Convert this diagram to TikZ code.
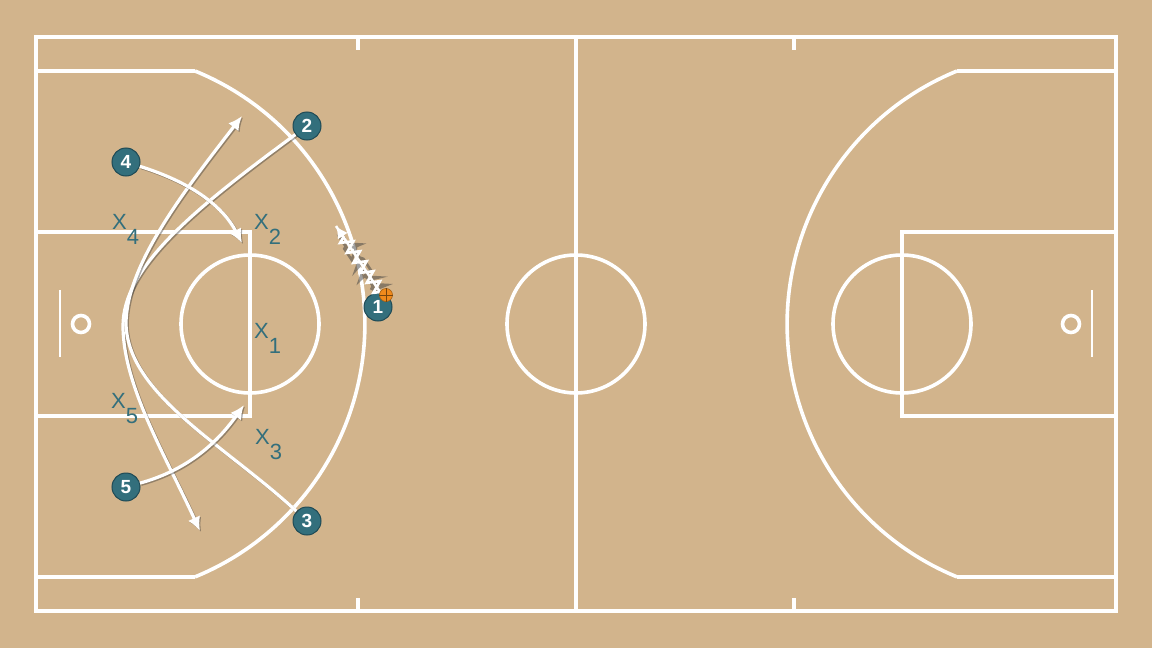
\documentclass[tikz,border=0pt]{standalone}
\usepackage{fontspec}
\setmainfont{Liberation Sans}
\usetikzlibrary{arrows.meta,decorations.pathmorphing,calc}
\definecolor{court}{HTML}{D2B48C}
\definecolor{teal}{HTML}{336F7C}
\definecolor{tealdark}{HTML}{1F4A55}
\definecolor{ballc}{HTML}{F08A1C}
\tikzset{
  cline/.style={draw=white,line width=3.6pt},
  player/.style={circle,fill=teal,draw=tealdark,line width=1pt,minimum size=28pt,inner sep=0pt,text=white,font=\bfseries\fontsize{19}{19}\selectfont},
  defender/.style={text=teal,inner sep=0pt,font=\fontsize{22}{22}\selectfont},
  move/.style={draw=white,line width=3.2pt,
    preaction={draw=black!80,opacity=.4,line width=3.2pt,transform canvas={xshift=1.2pt,yshift=-1.2pt}}},
  movearrow/.style={move,-{Latex[length=14pt,width=13pt]}},
}
\begin{document}
\begin{tikzpicture}[x=1pt,y=-1pt]
\fill[court] (0,0) rectangle (1152,648);
\useasboundingbox (0,0) rectangle (1152,648);
% court outline
\draw[cline] (36,37) rectangle (1116,611);
\draw[cline] (576,37) -- (576,611);
\draw[cline] (576,324) circle[radius=69];
\foreach \x in {358,794}{
  \draw[cline] (\x,37) -- (\x,50);
  \draw[cline] (\x,611) -- (\x,598);
}
% left half
\draw[cline] (36,71) -- (195,71);
\draw[cline] (36,577) -- (195,577);
\draw[cline] (195,71) arc[start angle=-67.75,end angle=67.75,radius=273.3];
\draw[cline] (36,232) rectangle (250,416);
\draw[cline] (250,324) circle[radius=69];
\draw[cline] (81,324) circle[radius=8.5];
\draw[white,line width=2.4pt] (60,290) -- (60,357);
% right half
\draw[cline] (1116,71) -- (957,71);
\draw[cline] (1116,577) -- (957,577);
\draw[cline] (957,71) arc[start angle=-112.25,end angle=-247.75,radius=273.3];
\draw[cline] (902,232) rectangle (1116,416);
\draw[cline] (902,324) circle[radius=69];
\draw[cline] (1071,324) circle[radius=8.5];
\draw[white,line width=2.4pt] (1092,290) -- (1092,357);

% target coordinates
\coordinate (a) at (123,326);
\coordinate (b) at (126,324);
\coordinate (t2) at (200,531);
\coordinate (t3) at (242,116);
\coordinate (t4) at (242,243);
\coordinate (t5) at (244,405);
\coordinate (t1) at (336,226);
\coordinate (s1) at (380,292);

% players
\node[player] (p1) at (378,307) {1};
\node[player] (p2) at (307,126) {2};
\node[player] (p3) at (307,521) {3};
\node[player] (p4) at (126,162) {4};
\node[player] (p5) at (126,487) {5};

% movements
\draw[movearrow] (p2) .. controls (190,212) and (123,268) .. (a) .. controls (123,385) and (165,455) .. (t2);
\draw[movearrow] (p3) .. controls (225,445) and (128,395) .. (b) .. controls (126,265) and (185,190) .. (t3);
\draw[movearrow] (p4) .. controls (190,182) and (222,205) .. (t4);
\draw[movearrow] (p5) .. controls (180,472) and (212,450) .. (t5);
% dribble
\draw[white,line width=2.6pt,
  preaction={draw=black!75,opacity=.5,line width=2.6pt,transform canvas={xshift=1.2pt,yshift=-1.5pt},decorate,decoration={zigzag,segment length=12pt,amplitude=6pt,post=lineto,post length=9pt}},
  decorate,decoration={zigzag,segment length=12pt,amplitude=6pt,post=lineto,post length=9pt}]
  (s1) -- (t1);
\draw[white,line width=2.6pt,-{Latex[length=12pt,width=12pt]}] ($(t1)!0.99!(s1)$) -- (t1);
% ball
\node[circle,fill=ballc,draw=ballc!70!black,line width=0.6pt,minimum size=13pt,inner sep=0pt] (ball) at (386,295) {};
\draw[ballc!50!black,line width=0.5pt] (ball.north) -- (ball.south) (ball.west) -- (ball.east);

% defenders
\newcommand{\defx}[1]{X\raisebox{-15pt}{#1}}
\node[defender,anchor=west] (d4) at (112,229) {\defx{4}};
\node[defender,anchor=west] (d2) at (254,229) {\defx{2}};
\node[defender,anchor=west] (d1) at (254,338) {\defx{1}};
\node[defender,anchor=west] (d5) at (111,409) {\defx{5}};
\node[defender,anchor=west] (d3) at (255,445) {\defx{3}};
\end{tikzpicture}
\end{document}
